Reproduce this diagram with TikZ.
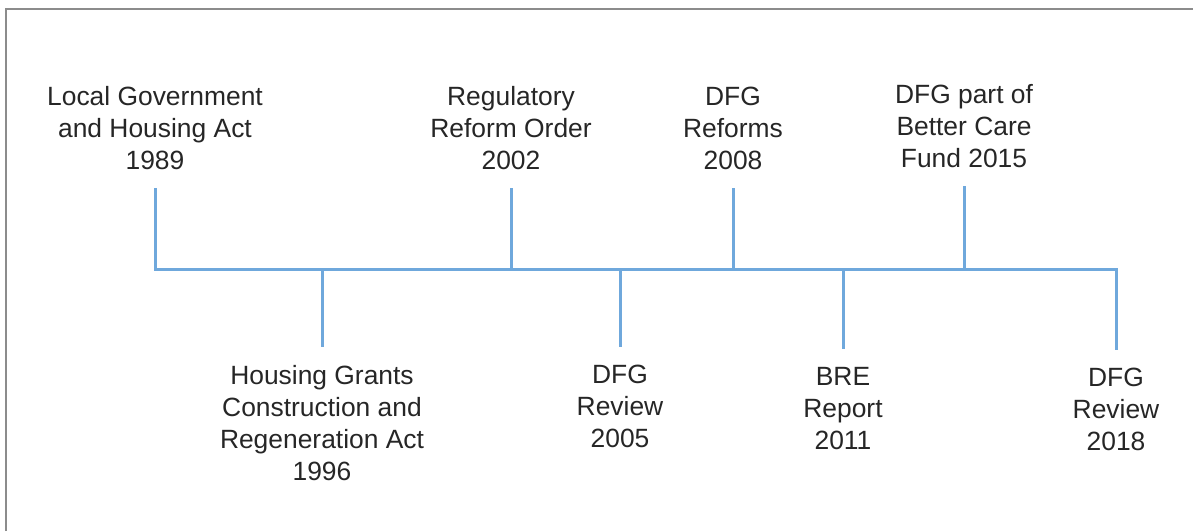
\documentclass[tikz,border=0pt]{standalone}
\usepackage{fontspec}
\setmainfont{Liberation Sans}
\usepackage{xcolor}
\definecolor{lineblue}{HTML}{6FA8DC}
\definecolor{framegray}{HTML}{8C8C8C}

\begin{document}
\begin{tikzpicture}[
    x=0.5pt, y=-0.5pt,
    event/.style={inner sep=0pt, outer xsep=0pt, outer ysep=9pt, align=center, text=black!85,
      font=\fontsize{13.2}{16}\selectfont},
    stem/.style={draw=lineblue, line width=1.5pt}
  ]

\useasboundingbox (0,0) rectangle (1193,531);

% Frame
\draw[framegray, line width=1pt] (6,531) -- (6,9) -- (1193,9);

% Axis points
\coordinate (a1989) at (155,269);
\coordinate (a1996) at (322,269);
\coordinate (a2002) at (511,269);
\coordinate (a2005) at (620,269);
\coordinate (a2008) at (733,269);
\coordinate (a2011) at (843,269);
\coordinate (a2015) at (964,269);
\coordinate (a2018) at (1116,269);

% Nodes
\node[event, anchor=south] (n1989) at (155,188) {Local Government\\and Housing Act\\1989};
\node[event, anchor=south] (n2002) at (511,188) {Regulatory\\Reform Order\\2002};
\node[event, anchor=south] (n2008) at (733,188) {DFG\\Reforms\\2008};
\node[event, anchor=south] (n2015) at (964,186) {DFG part of\\Better Care\\Fund 2015};
\node[event, anchor=north] (n1996) at (322,347) {Housing Grants\\Construction and\\Regeneration Act\\1996};
\node[event, anchor=north] (n2005) at (620,347) {DFG\\Review\\2005};
\node[event, anchor=north] (n2011) at (843,349) {BRE\\Report\\2011};
\node[event, anchor=north] (n2018) at (1116,350) {DFG\\Review\\2018};

% Lines
\draw[stem] (n1989) -- (a1989) -- (a2018) -- (n2018);
\draw[stem] (a1996) -- (n1996);
\draw[stem] (a2002) -- (n2002);
\draw[stem] (a2005) -- (n2005);
\draw[stem] (a2008) -- (n2008);
\draw[stem] (a2011) -- (n2011);
\draw[stem] (a2015) -- (n2015);

\end{tikzpicture}
\end{document}
